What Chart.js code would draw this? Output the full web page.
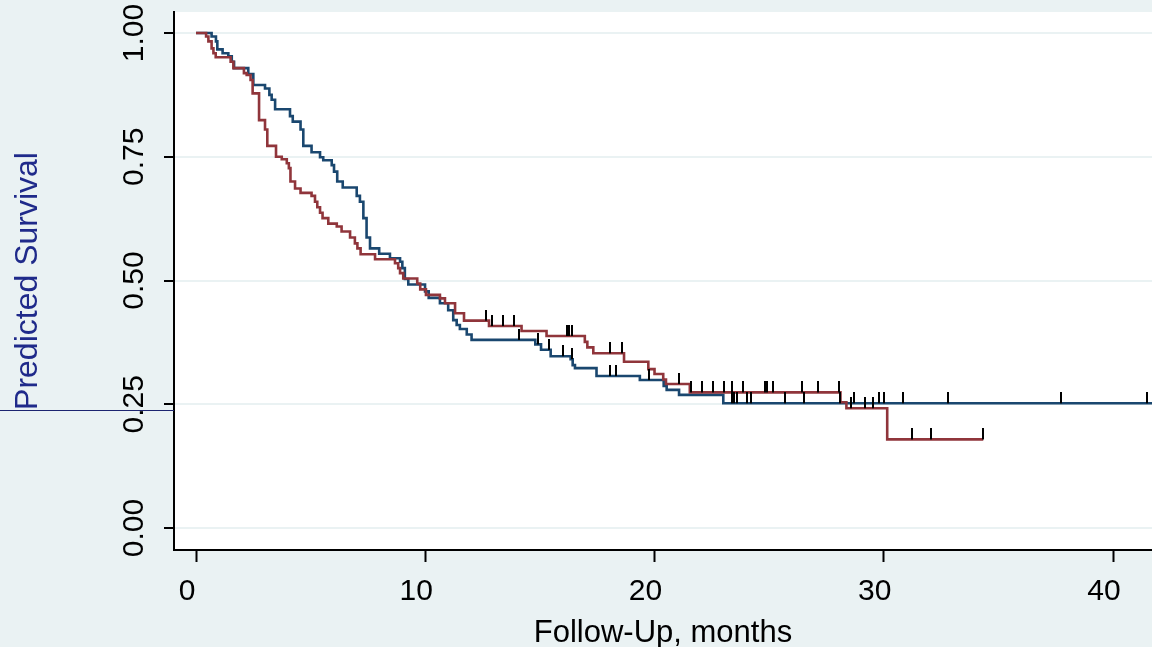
<!DOCTYPE html>
<html>
<head>
<meta charset="utf-8">
<script src="https://cdn.jsdelivr.net/npm/chart.js@4.4.1/dist/chart.umd.min.js"></script>
<style>
  html, body { margin: 0; padding: 0; background: #eaf2f3; }
  #wrap { width: 1152px; height: 647px; }
</style>
</head>
<body>
<div id="wrap"><canvas id="survChart" width="1152" height="647"></canvas></div>
<script>
// Kaplan-Meier steps (months, survival)
const blueMonths = [0, 0.68, 0.87, 0.93, 1.16, 1.41, 1.56, 1.66, 2.28, 2.50, 3.01, 3.20, 3.30, 3.45,
  4.10, 4.22, 4.56, 4.68, 5.04, 5.41, 5.55, 5.92, 6.02, 6.16, 6.40, 7.01, 7.15, 7.30, 7.44, 7.59,
  7.99, 8.46, 8.90, 9.00, 9.11, 9.26, 9.99, 10.15, 10.64, 11.00, 11.22, 11.37, 11.51, 11.81, 12.02,
  14.80, 15.05, 15.47, 16.34, 16.43, 16.53, 17.47, 19.36, 20.40, 20.53, 21.07, 23.00, 41.80];
const blueSurv = [1.000, 0.993, 0.983, 0.967, 0.959, 0.953, 0.942, 0.929, 0.917, 0.895, 0.888, 0.875, 0.865, 0.846,
  0.832, 0.821, 0.805, 0.772, 0.759, 0.749, 0.743, 0.733, 0.720, 0.700, 0.688, 0.671, 0.659, 0.626, 0.587, 0.565,
  0.554, 0.545, 0.538, 0.525, 0.503, 0.492, 0.478, 0.465, 0.454, 0.440, 0.420, 0.410, 0.402, 0.391, 0.380,
  0.371, 0.360, 0.347, 0.341, 0.329, 0.323, 0.307, 0.299, 0.287, 0.279, 0.269, 0.252, 0.252];

const redMonths = [0, 0.44, 0.54, 0.68, 0.76, 0.86, 1.51, 1.63, 2.09, 2.21, 2.38, 2.47, 2.75, 3.01, 3.11,
  3.49, 3.74, 3.96, 4.05, 4.12, 4.32, 4.56, 5.04, 5.19, 5.29, 5.41, 5.52, 5.77, 6.14, 6.35, 6.72, 6.93,
  7.04, 7.18, 7.81, 8.68, 8.82, 8.90, 9.04, 9.65, 9.78, 10.03, 10.64, 10.86, 11.30, 11.69, 12.78, 14.20,
  15.29, 16.96, 17.07, 17.33, 18.67, 19.73, 20.00, 20.38, 20.50, 21.54, 28.11, 28.37, 30.15, 34.34];
const redSurv = [1.000, 0.993, 0.983, 0.969, 0.959, 0.951, 0.942, 0.929, 0.919, 0.915, 0.905, 0.878, 0.824, 0.805, 0.772,
  0.750, 0.745, 0.737, 0.727, 0.700, 0.686, 0.677, 0.671, 0.659, 0.648, 0.637, 0.626, 0.615, 0.609, 0.599, 0.587, 0.575,
  0.565, 0.553, 0.543, 0.535, 0.525, 0.515, 0.504, 0.494, 0.482, 0.471, 0.464, 0.454, 0.434, 0.419, 0.408, 0.398,
  0.388, 0.376, 0.365, 0.353, 0.336, 0.321, 0.311, 0.300, 0.291, 0.274, 0.254, 0.242, 0.179, 0.179];

// censoring times
const blueCensor = [14.10, 14.93, 15.41, 16.02, 16.38, 18.05, 18.32, 19.77, 23.36, 23.46, 23.61, 24.02, 24.23,
  25.69, 26.52, 28.08, 28.70, 29.80, 30.00, 30.85, 32.78, 37.75, 41.49];
const redCensor = [12.65, 12.89, 13.37, 13.87, 16.17, 16.28, 16.38, 18.05, 18.56, 21.08, 21.57, 22.05, 22.53,
  23.03, 23.36, 23.87, 24.81, 24.89, 25.18, 26.42, 27.14, 28.06, 28.59, 29.18, 29.54, 31.23, 32.05, 34.34];

const xTicks = [0, 10, 20, 30, 40];
const yTicks = [0, 0.25, 0.5, 0.75, 1];
const yTickLabels = ["0.00", "0.25", "0.50", "0.75", "1.00"];

const NAVY = "#1a476f";
const MAROON = "#90353b";
const BG = "#eaf2f3";
const FONT = "'Liberation Sans', Arial, sans-serif";

// value of a step curve at time t
function survAt(months, surv, t) {
  let s = surv[0];
  for (let i = 0; i < months.length; i++) {
    if (months[i] <= t) s = surv[i];
  }
  return s;
}

const toPoints = (xs, ys) => xs.map((x, i) => ({ x: x, y: ys[i] }));
const censorPoints = (times, months, surv) => times.map(t => ({ x: t, y: survAt(months, surv, t) }));

// small vertical tick sitting on top of the curve
const tickMark = document.createElement("canvas");
tickMark.width = 2;
tickMark.height = 22;
const tctx = tickMark.getContext("2d");
tctx.fillStyle = "#000";
tctx.fillRect(0, 0, 2, 11);

const backdrop = {
  id: "backdrop",
  beforeDraw(chart) {
    const { ctx, chartArea } = chart;
    ctx.save();
    ctx.fillStyle = BG;
    ctx.fillRect(0, 0, chart.width, chart.height);
    ctx.fillStyle = "#fff";
    ctx.fillRect(chartArea.left, chartArea.top, chartArea.right - chartArea.left, chartArea.bottom - chartArea.top);
    ctx.restore();
  }
};

// y tick labels are rotated, which chart.js doesn't do for a vertical axis
const yLabels = {
  id: "yLabels",
  afterDraw(chart) {
    const { ctx, chartArea } = chart;
    const y = chart.scales.y;
    ctx.save();
    ctx.fillStyle = "#000";
    ctx.font = "30px " + FONT;
    ctx.textAlign = "center";
    ctx.textBaseline = "alphabetic";
    yTicks.forEach((v, i) => {
      ctx.save();
      ctx.translate(chartArea.left - 31, y.getPixelForValue(v));
      ctx.rotate(-Math.PI / 2);
      ctx.fillText(yTickLabels[i], 0, 0);
      ctx.restore();
    });
    // stray rule on the left margin
    ctx.strokeStyle = "#1c2470";
    ctx.lineWidth = 1;
    ctx.beginPath();
    ctx.moveTo(0, 410.5);
    ctx.lineTo(chartArea.left, 410.5);
    ctx.stroke();
    ctx.restore();
  }
};

new Chart(document.getElementById("survChart"), {
  type: "line",
  data: {
    datasets: [
      {
        type: "scatter",
        data: censorPoints(redCensor, redMonths, redSurv),
        pointStyle: tickMark,
        pointRadius: 11,
        showLine: false
      },
      {
        type: "scatter",
        data: censorPoints(blueCensor, blueMonths, blueSurv),
        pointStyle: tickMark,
        pointRadius: 11,
        showLine: false
      },
      {
        data: toPoints(redMonths, redSurv),
        borderColor: MAROON,
        borderWidth: 2.6,
        stepped: true,
        pointRadius: 0,
        fill: false
      },
      {
        data: toPoints(blueMonths, blueSurv),
        borderColor: NAVY,
        borderWidth: 2.6,
        stepped: true,
        pointRadius: 0,
        fill: false
      }
    ]
  },
  options: {
    responsive: false,
    devicePixelRatio: 1,
    animation: false,
    events: [],
    layout: { autoPadding: false, padding: { top: 12, right: 0, left: 0, bottom: 0 } },
    plugins: {
      legend: { display: false },
      tooltip: { enabled: false }
    },
    scales: {
      x: {
        type: "linear",
        min: -0.96,
        max: 41.7,
        afterBuildTicks: (scale) => { scale.ticks = xTicks.map(v => ({ value: v })); },
        afterFit: (scale) => {
          scale.height = 97;
          scale.paddingLeft = 0;
          scale.paddingRight = 0;
        },
        border: { color: "#000", width: 2 },
        grid: { drawOnChartArea: false, tickLength: 12, tickColor: "#000", tickWidth: 2 },
        ticks: {
          color: "#000",
          font: { family: FONT, size: 30 },
          padding: 12,
          labelOffset: -9,
          maxRotation: 0,
          callback: (v) => String(v)
        },
        title: {
          display: true,
          text: "Follow-Up, months",
          color: "#000",
          font: { family: FONT, size: 31 },
          padding: { top: 0, bottom: -5 }
        }
      },
      y: {
        min: -0.0444,
        max: 1.0424,
        afterBuildTicks: (scale) => { scale.ticks = yTicks.map(v => ({ value: v })); },
        afterFit: (scale) => { scale.width = 174; },
        border: { color: "#000", width: 2 },
        grid: { color: BG, lineWidth: 2, tickLength: 10, tickColor: "#000", tickWidth: 2 },
        ticks: { display: false },
        title: {
          display: true,
          text: "Predicted Survival",
          color: "#1f2a8a",
          font: { family: FONT, size: 32 },
          padding: { top: 9, bottom: 0 }
        }
      }
    }
  },
  plugins: [backdrop, yLabels]
});
</script>
</body>
</html>
